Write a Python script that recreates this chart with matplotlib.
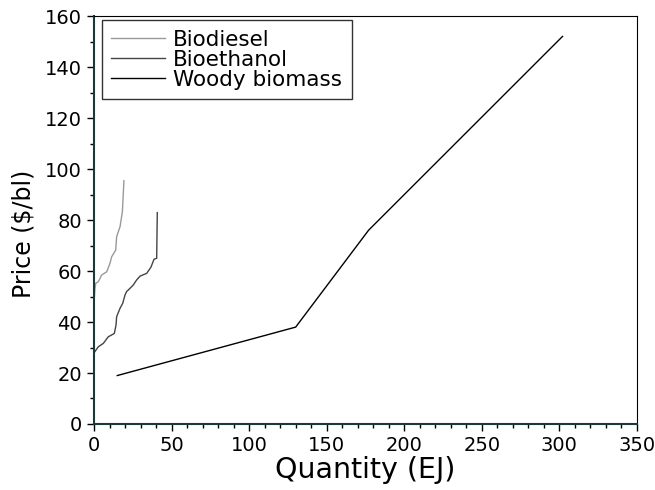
import numpy as np
import matplotlib.pyplot as plt
from matplotlib.ticker import MultipleLocator

# supply curves
biodiesel_q = [0.3, 0.6, 1.1, 2.8, 4.9, 8.2, 10.3, 11.4, 14.0, 14.6, 16.8, 18.3, 19.3]
biodiesel_p = [50.0, 53.0, 55.2, 55.8, 58.4, 59.7, 63.0, 65.6, 68.2, 73.5, 77.4, 83.3, 95.4]

bioethanol_q = [0.6, 2.8, 6.0, 9.2, 13.1, 14.2, 14.6, 16.8, 18.5, 20.0, 21.0, 23.2, 25.3,
                27.5, 29.7, 34.0, 36.7, 38.7, 40.4, 40.8]
bioethanol_p = [28.4, 30.3, 31.6, 34.2, 35.5, 38.8, 42.1, 45.4, 47.3, 50.6, 51.9, 53.2, 54.5,
                56.5, 58.0, 59.1, 61.5, 64.6, 65.0, 82.9]

woody_q = [15, 130, 177, 302]
woody_p = [19, 38, 76, 152]

fig = plt.figure(figsize=(6.55, 4.9), dpi=100)
ax = fig.add_axes([0.1435, 0.1347, 0.829, 0.8326])

ax.plot(biodiesel_q, biodiesel_p, color='#999999', lw=1.0, label='Biodiesel')
ax.plot(bioethanol_q, bioethanol_p, color='#444444', lw=1.0, label='Bioethanol')
ax.plot(woody_q, woody_p, color='black', lw=1.0, label='Woody biomass')

ax.set_xlim(0, 350)
ax.set_ylim(0, 160)
ax.xaxis.set_major_locator(MultipleLocator(50))
ax.xaxis.set_minor_locator(MultipleLocator(10))
ax.yaxis.set_major_locator(MultipleLocator(20))
ax.yaxis.set_minor_locator(MultipleLocator(10))
ax.tick_params(which='major', length=5, width=1, pad=3.5, labelsize=14)
ax.tick_params(which='minor', length=3, width=1)

ax.spines['left'].set_color('#1a3a3a')
ax.spines['bottom'].set_color('#1a3a3a')
ax.spines['left'].set_linewidth(1.5)
ax.spines['bottom'].set_linewidth(1.5)

ax.set_xlabel('Quantity (EJ)', fontsize=20.5, labelpad=1)
ax.set_ylabel('Price ($/bl)', fontsize=17, labelpad=7)
ax.yaxis.label.set_y(0.466)

leg = ax.legend(loc='upper left', bbox_to_anchor=(0.0142, 0.99), borderaxespad=0,
                fontsize=15.5, frameon=True, fancybox=False, edgecolor='black',
                handlelength=2.5, labelspacing=0.0, borderpad=0.45,
                handletextpad=0.36)
leg.get_frame().set_linewidth(1.0)

fig.savefig('out.png', dpi=100)
